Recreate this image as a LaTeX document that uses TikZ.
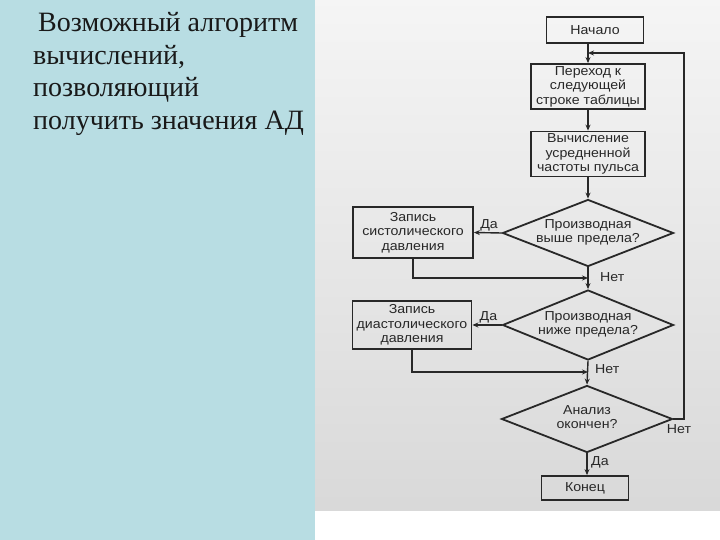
\documentclass[tikz,border=0pt]{standalone}
\usepackage{fontspec}
\setmainfont{Liberation Serif}
\newfontfamily\flowfont[FakeStretch=1.09]{Liberation Sans}
\usetikzlibrary{shapes.geometric,arrows.meta}
\definecolor{panelblue}{RGB}{184,221,227}
\definecolor{ink}{RGB}{40,40,40}
\newcommand{\dtext}[1]{\smash{\raisebox{-2.5pt}{\makebox[0pt]{\begin{tabular}{@{}c@{}}#1\end{tabular}}}}}
\tikzset{
  ffont/.style={font=\flowfont\fontsize{13}{14.4}\selectfont},
  blk/.style={draw=ink, line width=1.8pt, rectangle, inner sep=0pt, align=center, ffont, text=ink},
  dec/.style={draw=ink, line width=1.8pt, diamond, inner sep=0pt, ffont, text=ink},
  conn/.style={draw=ink, line width=1.4pt},
  arr/.style={conn, -{Stealth[length=6pt,width=5pt]}},
  lbl/.style={ffont, text=ink, inner sep=1pt},
  ttl/.style={font=\fontsize{28}{32}\selectfont, anchor=base west, inner sep=0pt, text=black!90}
}
\begin{document}
\begin{tikzpicture}[x=1pt,y=-1pt]
\useasboundingbox (0,0) rectangle (720,540);
\fill[white] (0,0) rectangle (720,540);
\fill[panelblue] (0,0) rectangle (315,540);
\shade[top color=black!4, bottom color=black!15] (315,0) rectangle (720,510);

\node[ttl] (t1) at (38,32) {Возможный алгоритм};
\node[ttl] (t2) at (33,65) {вычислений,};
\node[ttl] (t3) at (33,97) {позволяющий};
\node[ttl] (t4) at (33,130) {получить значения АД};

\node[blk, minimum width=97pt, minimum height=26pt] (start) at (595,30) {Начало};
\node[blk, minimum width=114pt, minimum height=45pt] (step1) at (588,86.5) {Переход к\\следующей\\строке таблицы};
\node[blk, minimum width=114pt, minimum height=45pt] (step2) at (588,154) {Вычисление\\усредненной\\частоты пульса};
\node[dec, minimum width=171pt, minimum height=67pt] (d1) at (588,233) {\dtext{Производная\\выше предела?}};
\node[blk, minimum width=120pt, minimum height=51pt] (sys) at (413,232.5) {Запись\\систолического\\давления};
\node[dec, minimum width=171pt, minimum height=70pt] (d2) at (588,325) {\dtext{Производная\\ниже предела?}};
\node[blk, minimum width=119pt, minimum height=48pt] (dia) at (412,325) {Запись\\диастолического\\давления};
\node[dec, minimum width=171pt, minimum height=67pt] (d3) at (587,419) {\dtext{Анализ\\окончен?}};
\node[blk, minimum width=87pt, minimum height=24pt] (end) at (585,488) {Конец};

\coordinate (j0) at (588,53);
\coordinate (j1) at (588,278);
\coordinate (j2) at (588,372);
\coordinate (r1) at (684,419);
\coordinate (r2) at (684,53);

\draw[arr] (start.south -| step1.north) -- (step1.north);
\draw[arr] (step1.south) -- (step2.north);
\draw[arr] (step2.south) -- (d1.north);
\draw[arr] (d1.west) -- (sys.east) node[lbl, pos=0.45, above] (yes1) {Да};
\draw[arr] (d1.south) -- (d2.north);
\draw[arr] (sys.south) |- (j1);
\node[lbl, anchor=west] (no1) at (599,277) {Нет};
\draw[arr] (d2.west) -- (dia.east) node[lbl, pos=0.45, above] (yes2) {Да};
\draw[arr] (d2.south) -- (d3.north);
\draw[arr] (dia.south) |- (j2);
\node[lbl, anchor=west] (no2) at (594,369) {Нет};
\draw[arr] (d3.east) -- (r1) -- (r2) -- (j0);
\node[lbl] (no3) at (679,429) {Нет};
\draw[arr] (d3.south) -- (d3.south |- end.north);
\node[lbl, anchor=west] (yes3) at (590,462) {Да};
\end{tikzpicture}
\end{document}
